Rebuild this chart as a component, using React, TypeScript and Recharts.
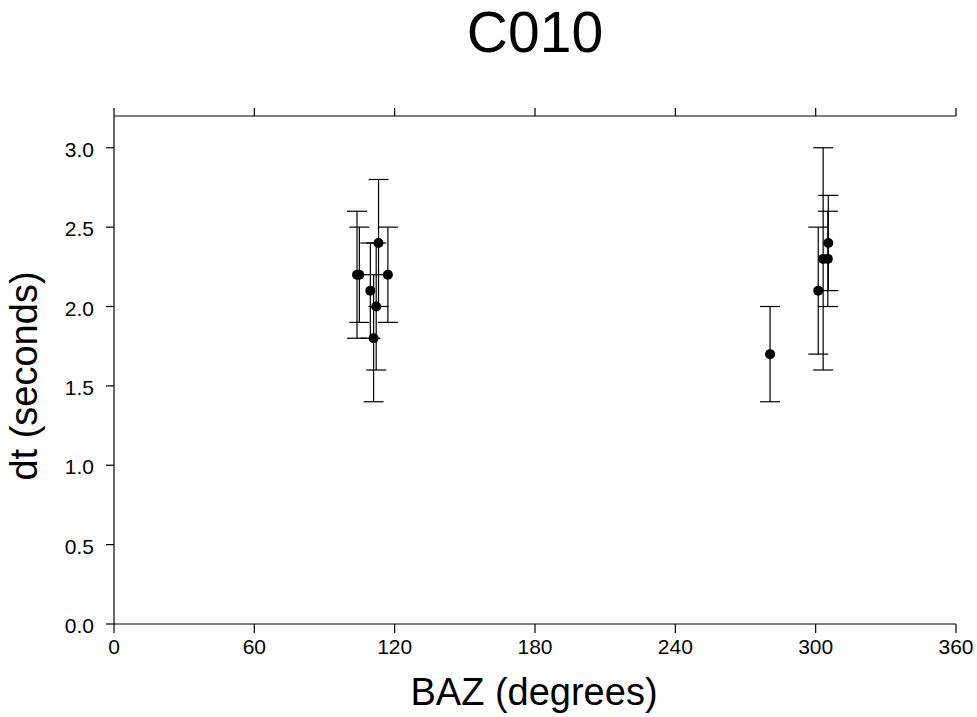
import React from 'react'
import { ScatterChart, Scatter, XAxis, YAxis, ErrorBar } from 'recharts'

// back azimuth (deg), delay time (s), error (s)
const baz = [103.9, 104.9, 109.6, 111.0, 112.1, 113.1, 117.1, 280.5, 301.1, 303.2, 305.2, 305.4]
const dt = [2.2, 2.2, 2.1, 1.8, 2.0, 2.4, 2.2, 1.7, 2.1, 2.3, 2.3, 2.4]
const dtErr = [0.4, 0.3, 0.3, 0.4, 0.4, 0.4, 0.3, 0.3, 0.4, 0.7, 0.3, 0.3]

const xTicks = [0, 60, 120, 180, 240, 300, 360]
const yTicks = [0, 0.5, 1.0, 1.5, 2.0, 2.5, 3.0]

const data = baz.map((b, i) => ({ baz: b, dt: dt[i], err: dtErr[i] }))

const FONT = '"Liberation Sans", Arial, Helvetica, sans-serif'
const axisStyle = { stroke: '#000', strokeWidth: 1.2 }

const Dot = (props: any) => <circle cx={props.cx} cy={props.cy} r={5} fill="#000" />

const XTick = (props: any) => (
  <text x={props.x} y={props.y + 21} textAnchor="middle" fontSize={21} fontFamily={FONT} fill="#000">
    {props.payload.value}
  </text>
)

const YTick = (props: any) => (
  <text x={props.x} y={props.y + 9} textAnchor="end" fontSize={21} fontFamily={FONT} fill="#000">
    {Number(props.payload.value).toFixed(1)}
  </text>
)

export default function App() {
  return (
    <div style={{ position: 'absolute', left: 0, top: 0, width: 977, height: 717, background: '#fff', fontFamily: FONT }}>
      <div style={{ position: 'absolute', left: 0, width: 1070, top: 4, textAlign: 'center', fontSize: 57, lineHeight: 1, color: '#000' }}>
        C010
      </div>
      <div
        style={{
          position: 'absolute', left: 24, top: 376, fontSize: 38, lineHeight: 1, color: '#000',
          whiteSpace: 'nowrap', transform: 'translate(-50%, -50%) rotate(-90deg)',
        }}
      >
        dt (seconds)
      </div>
      <div style={{ position: 'absolute', left: 0, width: 1068, top: 673, textAlign: 'center', fontSize: 38, lineHeight: 1, color: '#000' }}>
        BAZ (degrees)
      </div>
      <ScatterChart width={977} height={717} margin={{ top: 96, right: 21, bottom: 0, left: 0 }}>
        <XAxis
          xAxisId="top"
          orientation="top"
          type="number"
          dataKey="baz"
          domain={[0, 360]}
          ticks={xTicks}
          height={20}
          tickSize={8}
          tickFormatter={() => ''}
          axisLine={axisStyle}
          tickLine={axisStyle}
          allowDataOverflow
        />
        <XAxis
          xAxisId="b"
          type="number"
          dataKey="baz"
          domain={[0, 360]}
          ticks={xTicks}
          height={93}
          tickSize={9}
          tickMargin={0}
          axisLine={axisStyle}
          tickLine={axisStyle}
          tick={XTick}
          allowDataOverflow
        />
        <YAxis
          yAxisId="l"
          type="number"
          dataKey="dt"
          domain={[0, 3.2]}
          ticks={yTicks}
          width={114}
          tickSize={8}
          tickMargin={12}
          axisLine={axisStyle}
          tickLine={axisStyle}
          tick={YTick}
          allowDataOverflow
        />
        <YAxis
          yAxisId="r"
          orientation="right"
          type="number"
          domain={[0, 3.2]}
          width={0}
          tick={false}
          axisLine={axisStyle}
          allowDataOverflow
        />
        <Scatter data={data} xAxisId="b" yAxisId="l" shape={Dot} isAnimationActive={false}>
          <ErrorBar dataKey="err" direction="y" width={10} stroke="#000" strokeWidth={1.2} isAnimationActive={false} />
        </Scatter>
      </ScatterChart>
    </div>
  )
}
